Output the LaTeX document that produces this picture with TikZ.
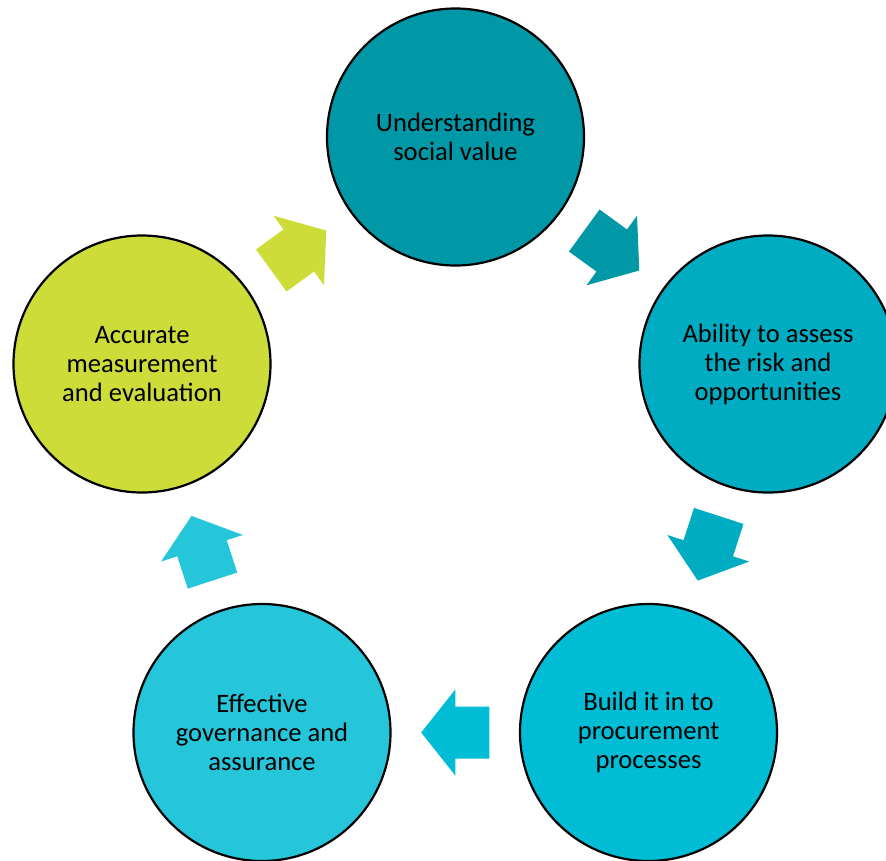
\documentclass[tikz,border=0pt]{standalone}
\usepackage{fontspec}
\setmainfont{Carlito}
\usetikzlibrary{positioning}
\usetikzlibrary{calc}

\definecolor{stageA}{HTML}{0097A7}
\definecolor{stageB}{HTML}{00ACC1}
\definecolor{stageC}{HTML}{00BCD4}
\definecolor{stageD}{HTML}{26C6DA}
\definecolor{stageE}{HTML}{CDDC39}

\tikzset{stage/.style={circle,draw=black,line width=2.2pt,minimum size=257pt,inner sep=0pt,align=center,font=\fontsize{26.6}{29}\selectfont}}

\begin{document}
\begin{tikzpicture}[x=1pt,y=-1pt]
 \useasboundingbox (0,0) rectangle (886,860);
 \clip (0,0) rectangle (886,860);
 \node[stage,fill=stageA] (understand) at (455.5,137) {Understanding\\social value};
 \node[stage,fill=stageB] (assess) at (768,364) {Ability to assess\\the risk and\\opportunities};
 \node[stage,fill=stageC] (build) at (648.5,732.5) {Build it in to\\procurement\\processes};
 \node[stage,fill=stageD] (govern) at (262,732.5) {Effective\\governance and\\assurance};
 \node[stage,fill=stageE] (measure) at (142,364) {Accurate\\measurement\\and evaluation};
 \foreach \from/\to/\ang/\col in {understand/assess/-36/stageA,assess/build/-108/stageB,build/govern/180/stageC,govern/measure/108/stageD,measure/understand/36/stageE}
  \fill[\col,shift={($(\from)!0.5!(\to)$)},rotate=\ang] (-34,26) -- (0,26) -- (0,43) -- (34,0) -- (0,-43) -- (0,-26) -- (-34,-26) -- cycle;
\end{tikzpicture}
\end{document}
